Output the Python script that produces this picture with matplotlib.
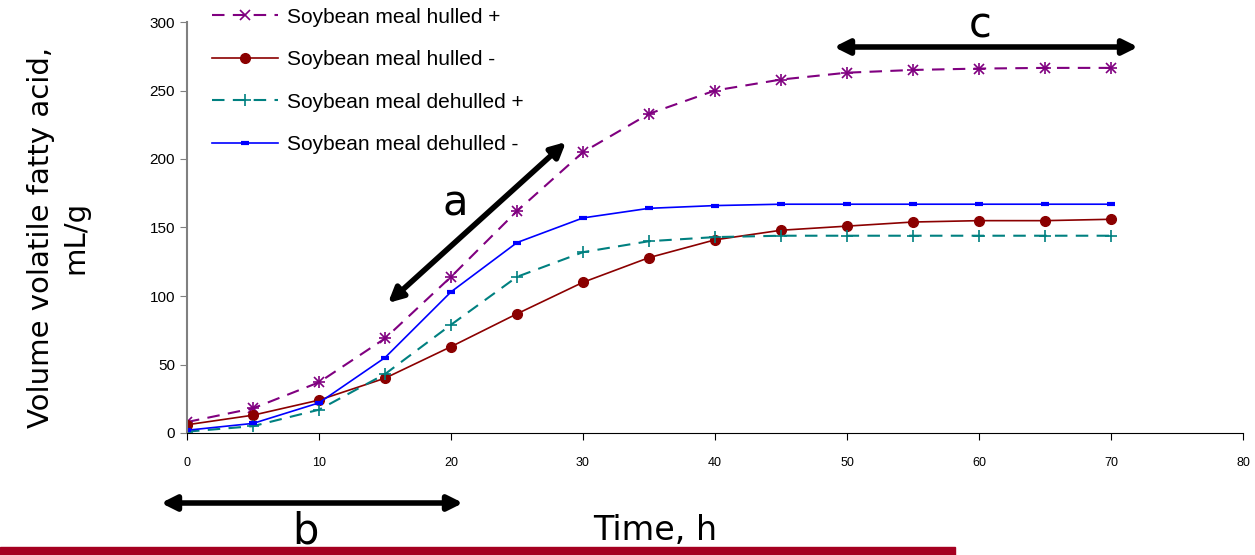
import matplotlib
matplotlib.use("Agg")
import matplotlib.pyplot as plt
from matplotlib.patches import Rectangle

# data
time_h = [0, 5, 10, 15, 20, 25, 30, 35, 40, 45, 50, 55, 60, 65, 70]
hulled_plus = [8, 18, 37, 69, 114, 162, 205, 233, 250, 258, 263, 265, 266, 266.5, 266.5]
hulled_minus = [6, 13, 24, 40, 63, 87, 110, 128, 141, 148, 151, 154, 155, 155, 156]
dehulled_plus = [1, 5, 17, 43, 79, 114, 132, 140, 143, 144, 144, 144, 144, 144, 144]
dehulled_minus = [2, 7, 22, 55, 103, 139, 157, 164, 166, 167, 167, 167, 167, 167, 167]
x_ticks = [0, 10, 20, 30, 40, 50, 60, 70, 80]
y_ticks = [0, 50, 100, 150, 200, 250, 300]

plt.rcParams['font.family'] = ['Liberation Sans', 'DejaVu Sans']

fig = plt.figure(figsize=(12.55, 5.55), dpi=100)
ax = fig.add_axes([187 / 1255, 122 / 555, 1056 / 1255, 411 / 555])

ax.plot(time_h, hulled_plus, color='#800080', ls=(0, (6, 4)), lw=1.5, marker='x',
        ms=7, mew=1.2, label='Soybean meal hulled +')
ax.plot(time_h, hulled_plus, color='#800080', ls='none', marker='+', ms=9, mew=1.2)
ax.plot(time_h, hulled_minus, color='#8B0000', ls='-', lw=1.2, marker='o',
        ms=7, label='Soybean meal hulled -')
ax.plot(time_h, dehulled_plus, color='#008080', ls=(0, (6, 4)), lw=1.5, marker='+',
        ms=8, mew=1.2, label='Soybean meal dehulled +')
ax.plot(time_h, dehulled_minus, color='#0000FF', ls='-', lw=1.2, marker='_',
        ms=6, mew=3, label='Soybean meal dehulled -')

ax.set_xlim(0, 80)
ax.set_ylim(0, 300)
ax.set_xticks(x_ticks)
ax.set_yticks(y_ticks)
ax.tick_params(axis='x', labelsize=9, length=5, pad=12)
ax.tick_params(axis='y', labelsize=11, length=5, color='#808080')
ax.spines['top'].set_visible(False)
ax.spines['right'].set_visible(False)
ax.spines['left'].set_color('#808080')
ax.spines['left'].set_linewidth(1.5)
ax.margins(0)

fig.legend(loc='upper left', bbox_to_anchor=(193 / 1255, 1.02), frameon=False,
           fontsize=15, handlelength=3.2, labelspacing=1.13, handletextpad=0.4)

# axis titles
fig.text(58 / 1255, 1 - 237 / 555, 'Volume volatile fatty acid,\nmL/g', rotation=90,
         ha='center', va='center', fontsize=21, family='DejaVu Sans',
         linespacing=1.3)
fig.text(655 / 1255, 24 / 555, 'Time, h', ha='center', va='center', fontsize=24,
         family='DejaVu Sans')

# annotation arrows and letters
arrow = dict(arrowstyle='<|-|>', color='black', lw=4, mutation_scale=22,
             shrinkA=0, shrinkB=0)
ax.annotate('', xy=(388, 555 - 303), xytext=(566, 555 - 142),
            xycoords='figure pixels', textcoords='figure pixels', arrowprops=arrow)
ax.annotate('', xy=(834, 555 - 47), xytext=(1138, 555 - 47),
            xycoords='figure pixels', textcoords='figure pixels', arrowprops=arrow)
ax.annotate('', xy=(161, 555 - 503), xytext=(463, 555 - 503),
            xycoords='figure pixels', textcoords='figure pixels', arrowprops=arrow)
fig.text(455 / 1255, 1 - 203 / 555, 'a', ha='center', va='center', fontsize=30,
         family='DejaVu Sans')
fig.text(980 / 1255, 1 - 26 / 555, 'c', ha='center', va='center', fontsize=30,
         family='DejaVu Sans')
fig.text(305 / 1255, 1 - 532 / 555, 'b', ha='center', va='center', fontsize=30,
         family='DejaVu Sans')

# slide footer bar
fig.patches.append(Rectangle((0, 0), 955 / 1255, 8 / 555, transform=fig.transFigure,
                             color='#A50021', zorder=0))

fig.savefig('out.png', dpi=100)
